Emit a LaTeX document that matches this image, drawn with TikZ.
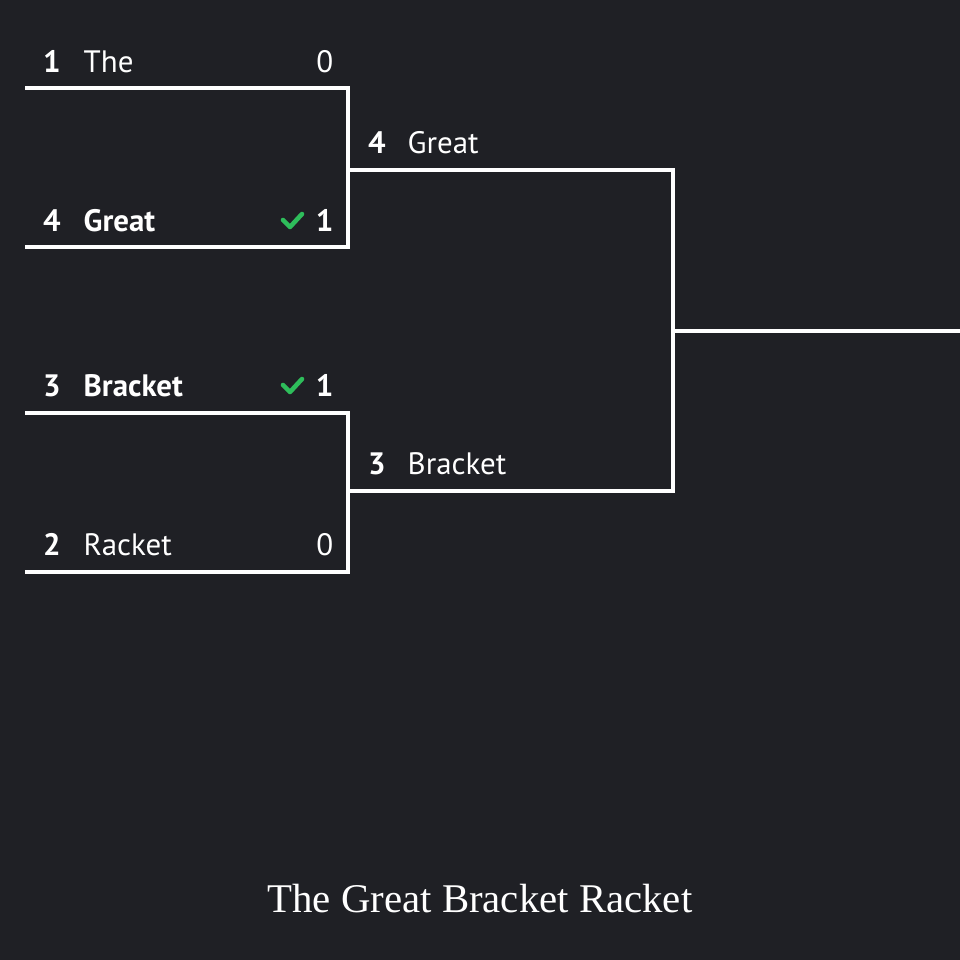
\documentclass[tikz,border=0pt]{standalone}
\usepackage{fontspec}
\setmainfont{Liberation Serif}
\newfontfamily\teamfont{PT Sans}
\usetikzlibrary{positioning}
\definecolor{bgdark}{HTML}{1F2025}
\definecolor{wingreen}{HTML}{2EBD5B}
\tikzset{
  wire/.style={draw=white, line width=0.9pt},
  seed/.style={anchor=base, text=white, font=\teamfont\fontsize{8.8}{10}\selectfont\bfseries, inner sep=0pt},
  team/.style={anchor=base west, text=white, font=\teamfont\fontsize{8.8}{10}\selectfont, inner sep=0pt},
  winner/.style={team, font=\teamfont\fontsize{8.8}{10}\selectfont\bfseries},
  score/.style={anchor=base east, text=white, font=\teamfont\fontsize{8.8}{10}\selectfont, inner sep=0pt},
  winscore/.style={score, font=\teamfont\fontsize{8.8}{10}\selectfont\bfseries},
  tick/.style={draw=wingreen, line width=1.3pt, line cap=round, line join=round}
}
\begin{document}
\begin{tikzpicture}[x=0.01cm, y=-0.01cm]
    %initialisation
    \fill[bgdark] (0,0) rectangle (960,960);
    \useasboundingbox (0,0) rectangle (960,960);
    %definitions
    \coordinate (A1) at (25,88);   \coordinate (A2) at (348,88);
    \coordinate (B1) at (25,247);  \coordinate (B2) at (348,247);
    \coordinate (C1) at (25,413);  \coordinate (C2) at (348,413);
    \coordinate (D1) at (25,572);  \coordinate (D2) at (348,572);
    \coordinate (E1) at (348,170); \coordinate (E2) at (673,170);
    \coordinate (F1) at (348,491); \coordinate (F2) at (673,491);
    \coordinate (G1) at (673,331); \coordinate (G2) at (960,331);
    %round one
    \draw[wire] (A1) -- (A2) -- (B2) -- (B1);
    \draw[wire] (C1) -- (C2) -- (D2) -- (D1);
    %round two
    \draw[wire] (E1) -- (E2) -- (F2) -- (F1);
    \draw[wire] (G1) -- (G2);
    %labels
    \node[seed] (sA) at (52,72) {1};
    \node[team] (tA) at (83,72) {The};
    \node[score] (pA) at (334,72) {0};
    \node[seed] (sB) at (52,231) {4};
    \node[winner] (tB) at (83,231) {Great};
    \node[winscore] (pB) at (334,231) {1};
    \node[seed] (sC) at (52,396) {3};
    \node[winner] (tC) at (83,396) {Bracket};
    \node[winscore] (pC) at (334,396) {1};
    \node[seed] (sD) at (52,555) {2};
    \node[team] (tD) at (83,555) {Racket};
    \node[score] (pD) at (334,555) {0};
    \node[seed] (sE) at (377,153) {4};
    \node[team] (tE) at (407,153) {Great};
    \node[seed] (sF) at (377,474) {3};
    \node[team] (tF) at (407,474) {Bracket};
    %ticks
    \coordinate (kB) at (283,220);
    \coordinate (kC) at (283,385);
    \draw[tick] (kB) -- ++(7,7) -- ++(12,-13);
    \draw[tick] (kC) -- ++(7,7) -- ++(12,-13);
    %title
    \node[anchor=base, text=white, font=\fontsize{11.6}{13}\selectfont, inner sep=0pt] (title) at (480,912) {The Great Bracket Racket};
\end{tikzpicture}
\end{document}
